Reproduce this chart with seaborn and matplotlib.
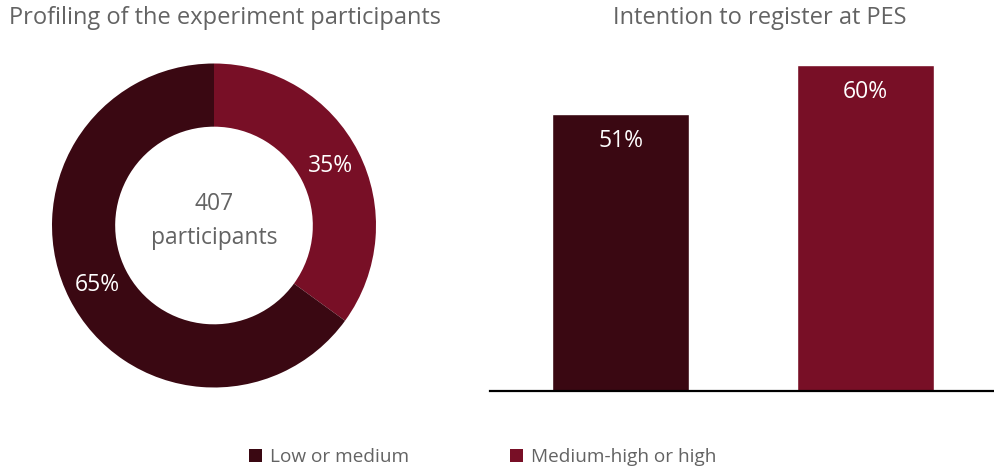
import matplotlib
matplotlib.use("Agg")
import matplotlib.pyplot as plt
from matplotlib.patches import Patch
import seaborn as sns
import pandas as pd
import numpy as np

# Data
groups = ["Low or medium", "Medium-high or high"]
profile_share = [65, 35]          # % of participants in each group
register_intent = [51, 60]        # % intending to register at PES
n_participants = 407
colors = ["#3A0812", "#780F26"]

sns.set_theme(style="white")
plt.rcParams["font.family"] = ["Open Sans", "DejaVu Sans"]
grey = "#636363"

fig = plt.figure(figsize=(9.94, 4.70), dpi=100)
W, H = 994, 470

# Donut: profiling of participants (35% wedge starts at 12 o'clock, clockwise)
ax1 = fig.add_axes([52 / W, (H - 225.5 - 162) / H, 324 / W, 324 / H])
order = [1, 0]
wedges, _ = ax1.pie([profile_share[i] for i in order],
                    colors=[colors[i] for i in order],
                    startangle=90, counterclock=False, radius=1,
                    wedgeprops=dict(width=0.39, linewidth=0))
ax1.set_xlim(-1, 1)
ax1.set_ylim(-1, 1)
ax1.set_aspect("equal")
start = 90.0
r_lab = 0.805
for i in order:
    span = profile_share[i] / sum(profile_share) * 360
    mid = np.deg2rad(start - span / 2)
    ax1.text(r_lab * np.cos(mid), r_lab * np.sin(mid), f"{profile_share[i]}%",
             ha="center", va="center", color="white", fontsize=16.5)
    start -= span
ax1.text(0, 0.03, f"{n_participants}\nparticipants", ha="center", va="center",
         color=grey, fontsize=16.5, linespacing=1.55)

fig.text(225 / W, 1 - 18 / H, "Profiling of the experiment participants",
         ha="center", va="center", color=grey, fontsize=17)

# Bars: intention to register at PES
ax2 = fig.add_axes([490 / W, (H - 391) / H, 504 / W, 327 / H])
df = pd.DataFrame({"group": groups, "value": register_intent})
sns.barplot(data=df, x="group", y="value", hue="group", palette=colors,
            width=0.56, legend=False, ax=ax2, saturation=1)
ax2.set_ylim(0, 60.2)
ax2.set_xlim(-0.533, 1.524)
for p, v in zip(ax2.patches, register_intent):
    ax2.text(p.get_x() + p.get_width() / 2, v - 4.9, f"{v}%",
             ha="center", va="center", color="white", fontsize=16.5)
for s in ["top", "right", "left"]:
    ax2.spines[s].set_visible(False)
ax2.spines["bottom"].set_color("black")
ax2.spines["bottom"].set_linewidth(1.6)
ax2.set_xticks([])
ax2.set_yticks([])
ax2.set_xlabel("")
ax2.set_ylabel("")

fig.text(760 / W, 1 - 18 / H, "Intention to register at PES",
         ha="center", va="center", color=grey, fontsize=17)

# Shared legend
handles = [Patch(facecolor=c, edgecolor="none") for c in colors]
leg = fig.legend(handles, groups, loc="center left",
                 bbox_to_anchor=(249 / W, 1 - 457 / H), ncol=2, frameon=False,
                 fontsize=13.7, handlelength=0.7, handleheight=0.7,
                 handletextpad=0.4, columnspacing=5.3, borderaxespad=0,
                 borderpad=0)
for t in leg.get_texts():
    t.set_color(grey)

fig.savefig("out.png", dpi=100)
